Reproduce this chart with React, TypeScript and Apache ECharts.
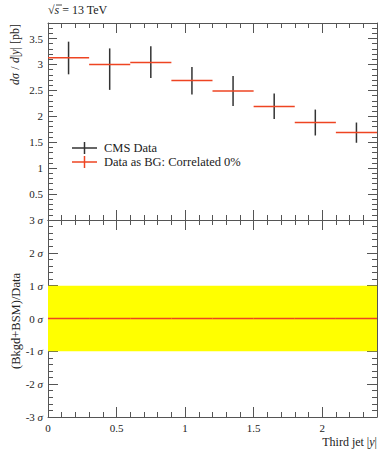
import React, { useEffect, useRef } from 'react';
import * as echarts from 'echarts';

const binLow = [0, 0.3, 0.6, 0.9, 1.2, 1.5, 1.8, 2.1];
const binHigh = [0.3, 0.6, 0.9, 1.2, 1.5, 1.8, 2.1, 2.4];
const cmsValues = [3.13, 3.0, 3.04, 2.69, 2.49, 2.19, 1.88, 1.69];
const cmsErrLow = [2.81, 2.51, 2.74, 2.42, 2.2, 1.95, 1.63, 1.49];
const cmsErrHigh = [3.44, 3.31, 3.35, 2.95, 2.78, 2.44, 2.13, 1.88];
const bgValues = [3.13, 3.0, 3.04, 2.69, 2.49, 2.19, 1.88, 1.69];
const ratioValues = [0, 0, 0, 0, 0, 0, 0, 0];
const bandLow = -1;
const bandHigh = 1;

const FONT = 'Liberation Serif';
const AX = '#555';
const RED = '#ee4422';
const BLACK = '#333';

const GL = 48, GW = 329, GT1 = 23, GH1 = 197, GT2 = 220, GH2 = 197;

function xAxis(grid: number, pos: string, interval: number, len: number, labels: boolean, line: boolean) {
  return {
    type: 'value', gridIndex: grid, position: pos, min: 0, max: 2.4, interval,
    axisLine: { show: line, onZero: false, lineStyle: { color: AX, width: 1 } },
    axisTick: { show: true, inside: true, length: len, lineStyle: { color: AX, width: 1 } },
    axisLabel: labels ? {
      show: true, color: '#222', fontFamily: FONT, fontSize: 11, margin: 5, showMaxLabel: false,
      formatter: (v: number) => String(v),
    } : { show: false },
    splitLine: { show: false },
  };
}

function yAxis(grid: number, pos: string, min: number, max: number, interval: number, len: number, labelFmt: any, line: boolean, showMax = false) {
  return {
    type: 'value', gridIndex: grid, position: pos, min, max, interval,
    axisLine: { show: line, onZero: false, lineStyle: { color: AX, width: 1 } },
    axisTick: { show: true, inside: true, length: len, lineStyle: { color: AX, width: 1 } },
    axisLabel: labelFmt ? {
      show: true, color: '#222', fontFamily: FONT, fontSize: 11, margin: 5, showMaxLabel: showMax, showMinLabel: true,
      formatter: labelFmt,
      rich: {
        n: { fontFamily: FONT, fontSize: 11, color: '#222' },
        s: { fontFamily: FONT, fontSize: 11, fontStyle: 'italic', color: '#222' },
      },
    } : { show: false },
    splitLine: { show: false },
  };
}

export default function App() {
  const ref = useRef<HTMLDivElement>(null);
  useEffect(() => {
    if (!ref.current) return;
    const chart = echarts.init(ref.current, undefined, { renderer: 'svg' });

    const cmsData = binLow.map((lo, i) => [lo, binHigh[i], cmsValues[i], cmsErrLow[i], cmsErrHigh[i]]);
    const bgData = binLow.map((lo, i) => [lo, binHigh[i], bgValues[i]]);
    const ratioData = binLow.map((lo, i) => [lo, binHigh[i], ratioValues[i]]);
    const bandData = [[binLow[0], binHigh[binHigh.length - 1], bandLow, bandHigh]];

    const upperFmt = (v: number) => (v === 0 ? '' : String(v));
    const lowerFmt = (v: number) => `{n|${v} }{s|σ}`;

    const option: any = {
      animation: false,
      backgroundColor: '#fff',
      grid: [
        { left: GL, top: GT1, width: GW, height: GH1 },
        { left: GL, top: GT2, width: GW, height: GH2 },
      ],
      xAxis: [
        xAxis(0, 'bottom', 0.5, 10, false, true),
        xAxis(0, 'bottom', 0.1, 5, false, false),
        xAxis(0, 'top', 0.5, 10, false, true),
        xAxis(0, 'top', 0.1, 5, false, false),
        xAxis(1, 'bottom', 0.5, 10, true, true),
        xAxis(1, 'bottom', 0.1, 5, false, false),
        xAxis(1, 'top', 0.5, 10, false, true),
        xAxis(1, 'top', 0.1, 5, false, false),
      ],
      yAxis: [
        yAxis(0, 'left', 0, 3.8, 0.5, 9, upperFmt, true),
        yAxis(0, 'left', 0, 3.8, 0.1, 5, null, false),
        yAxis(0, 'right', 0, 3.8, 0.5, 9, null, true),
        yAxis(0, 'right', 0, 3.8, 0.1, 5, null, false),
        yAxis(1, 'left', -3, 3, 1, 10, lowerFmt, true, true),
        yAxis(1, 'left', -3, 3, 0.2, 5, null, false),
        yAxis(1, 'right', -3, 3, 1, 10, null, true),
        yAxis(1, 'right', -3, 3, 0.2, 5, null, false),
      ],
      series: [
        {
          type: 'custom', xAxisIndex: 4, yAxisIndex: 4, z: 1,
          data: bandData,
          renderItem: (params: any, api: any) => {
            const p1 = api.coord([api.value(0), api.value(3)]);
            const p2 = api.coord([api.value(1), api.value(2)]);
            return { type: 'rect', shape: { x: p1[0], y: p1[1], width: p2[0] - p1[0], height: p2[1] - p1[1] }, style: { fill: '#ffff00' } };
          },
        },
        {
          type: 'custom', xAxisIndex: 4, yAxisIndex: 4, z: 3,
          data: ratioData,
          renderItem: (params: any, api: any) => {
            const a = api.coord([api.value(0), api.value(2)]);
            const b = api.coord([api.value(1), api.value(2)]);
            return { type: 'line', shape: { x1: a[0], y1: a[1], x2: b[0], y2: b[1] }, style: { stroke: RED, lineWidth: 1.3 } };
          },
        },
        {
          type: 'custom', xAxisIndex: 0, yAxisIndex: 0, z: 3,
          data: cmsData,
          renderItem: (params: any, api: any) => {
            const cx = (api.value(0) + api.value(1)) / 2;
            const t = api.coord([cx, api.value(4)]);
            const b = api.coord([cx, api.value(3)]);
            return { type: 'line', shape: { x1: t[0], y1: t[1], x2: b[0], y2: b[1] }, style: { stroke: BLACK, lineWidth: 1.5 } };
          },
        },
        {
          type: 'custom', xAxisIndex: 0, yAxisIndex: 0, z: 4,
          data: bgData,
          renderItem: (params: any, api: any) => {
            const a = api.coord([api.value(0), api.value(2)]);
            const b = api.coord([api.value(1), api.value(2)]);
            return { type: 'line', shape: { x1: a[0], y1: a[1], x2: b[0], y2: b[1] }, style: { stroke: RED, lineWidth: 1.5 } };
          },
        },
      ],
      graphic: [
        {
          type: 'text', left: 48, top: 4,
          style: {
            text: '{r|√}{i|s}{r| = 13 TeV}',
            rich: {
              r: { fontFamily: FONT, fontSize: 12, fill: '#222' },
              i: { fontFamily: FONT, fontSize: 12, fontStyle: 'italic', fill: '#222' },
            },
          },
        },
        { type: 'line', shape: { x1: 56, y1: 5, x2: 62, y2: 5 }, style: { stroke: '#222', lineWidth: 0.8 } },
        {
          type: 'text', x: 15, y: 24, rotation: Math.PI / 2,
          style: {
            text: '{i|dσ} {r|/} {i|d}{r||}{i|y}{r|| [pb]}',
            align: 'right', verticalAlign: 'middle',
            rich: {
              r: { fontFamily: FONT, fontSize: 12, fill: '#222' },
              i: { fontFamily: FONT, fontSize: 12, fontStyle: 'italic', fill: '#222' },
            },
          },
        },
        {
          type: 'text', x: 16, y: 321, rotation: Math.PI / 2,
          style: { text: '(Bkgd+BSM)/Data', fontFamily: FONT, fontSize: 12.5, fill: '#222', align: 'center', verticalAlign: 'middle' },
        },
        {
          type: 'text', x: 377, y: 442,
          style: {
            text: '{r|Third jet |}{i|y}{r||}', align: 'right', verticalAlign: 'middle',
            rich: {
              r: { fontFamily: FONT, fontSize: 12, fill: '#222' },
              i: { fontFamily: FONT, fontSize: 12, fontStyle: 'italic', fill: '#222' },
            },
          },
        },
        // legend
        { type: 'line', shape: { x1: 72, y1: 148, x2: 97, y2: 148 }, style: { stroke: BLACK, lineWidth: 1.5 } },
        { type: 'line', shape: { x1: 84.5, y1: 142, x2: 84.5, y2: 154 }, style: { stroke: BLACK, lineWidth: 1.5 } },
        { type: 'text', x: 104, y: 148, style: { text: 'CMS Data', fontFamily: FONT, fontSize: 12.5, fill: '#222', verticalAlign: 'middle' } },
        { type: 'line', shape: { x1: 72, y1: 162, x2: 97, y2: 162 }, style: { stroke: RED, lineWidth: 1.5 } },
        { type: 'line', shape: { x1: 84.5, y1: 156, x2: 84.5, y2: 168 }, style: { stroke: RED, lineWidth: 1.5 } },
        { type: 'text', x: 104, y: 162, style: { text: 'Data as BG: Correlated 0%', fontFamily: FONT, fontSize: 12.5, fill: '#222', verticalAlign: 'middle' } },
      ],
    };
    chart.setOption(option);
    return () => chart.dispose();
  }, []);
  return <div ref={ref} style={{ position: 'absolute', left: 0, top: 0, width: 389, height: 450 }} />;
}
